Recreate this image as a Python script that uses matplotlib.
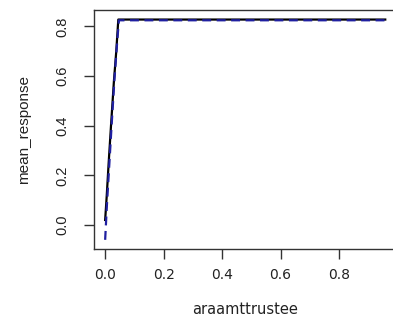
import matplotlib.pyplot as plt

plt.rcParams['font.family'] = ['Liberation Sans', 'DejaVu Sans']

# observed mean response (black solid)
x_obs = [0.0, 0.005, 0.012, 0.02, 0.03, 0.038, 0.045, 0.958]
y_obs = [0.02, 0.11, 0.25, 0.40, 0.58, 0.70, 0.828, 0.828]

# fitted mean response (blue dashed)
x_fit = [0.0, 0.006, 0.014, 0.022, 0.032, 0.04, 0.047, 0.958]
y_fit = [-0.06, 0.08, 0.24, 0.40, 0.59, 0.72, 0.825, 0.825]

xticks = [0.0, 0.2, 0.4, 0.6, 0.8]
yticks = [0.0, 0.2, 0.4, 0.6, 0.8]

fig = plt.figure(figsize=(3.93, 3.2), dpi=100)
ax = fig.add_axes([0.239, 0.222, 0.77, 0.747])

ax.plot(x_obs, y_obs, color='black', linewidth=1.6)
ax.plot(x_fit, y_fit, color='#1f1fa0', linewidth=1.6, linestyle=(0, (4, 2.5)))

ax.set_xlim(-0.0384, 0.9966)
ax.set_ylim(-0.0968, 0.8668)
ax.set_xticks(xticks)
ax.set_xticklabels([f"{t:.1f}" for t in xticks], family='DejaVu Sans', fontsize=10)
ax.set_yticks(yticks)
ax.set_yticklabels([f"{t:.1f}" for t in yticks], rotation=90, va='center', fontsize=10.5)

for s in ax.spines.values():
    s.set_color('#333333')
    s.set_linewidth(1.0)
ax.tick_params(direction='out', length=7, width=1, color='#333333',
               labelcolor='#222222')
ax.tick_params(axis='x', pad=7)
ax.tick_params(axis='y', pad=11)

ax.set_xlabel('araamttrustee', family='DejaVu Sans', fontsize=10.5,
              color='#222222', labelpad=14)
ax.set_ylabel('mean_response', fontsize=11, color='#222222', labelpad=17)

fig.savefig('out.png', dpi=100)
